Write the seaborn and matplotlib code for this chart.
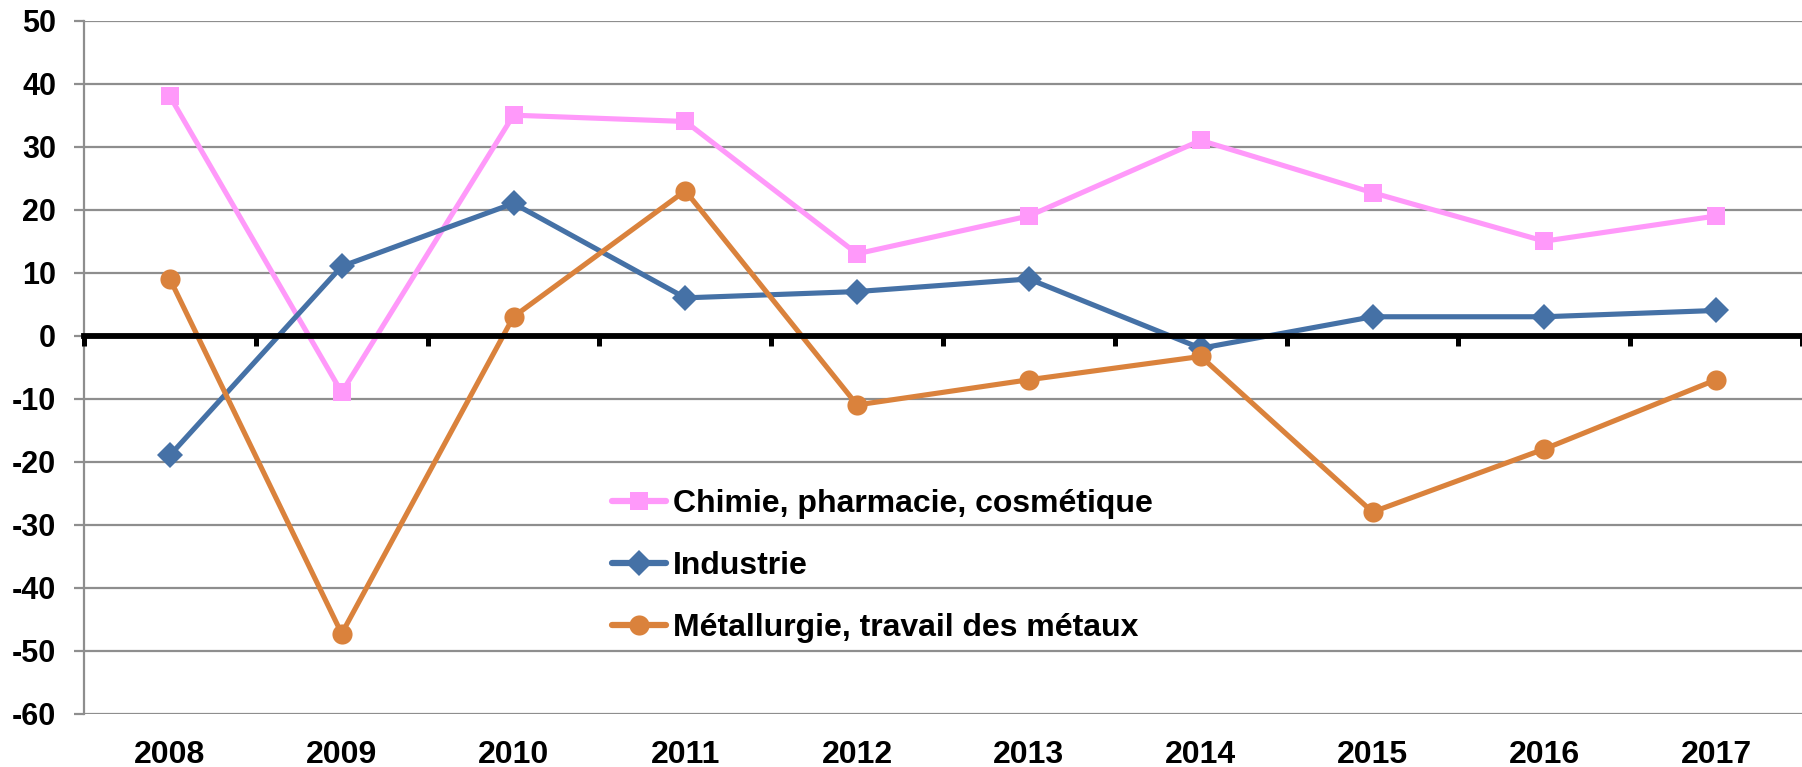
import matplotlib
matplotlib.use("Agg")
import matplotlib.pyplot as plt
import seaborn as sns
import pandas as pd
import numpy as np

years = ["2008", "2009", "2010", "2011", "2012", "2013", "2014", "2015", "2016", "2017"]
chimie = [38, -9, 35, 34, 13, 19, 31, 22.7, 15, 19]
industrie = [-19, 11, 21, 6, 7, 9, -2, 3, 3, 4]
metallurgie = [9, -47.3, 3, 23, -11, -7, -3.3, -28, -18, -7]
series_names = ["Chimie, pharmacie, cosmétique", "Industrie", "Métallurgie, travail des métaux"]
y_ticks = list(range(-60, 51, 10))

sns.set_theme(style="white")
plt.rcParams["font.family"] = ["Liberation Sans", "DejaVu Sans"]
plt.rcParams["font.weight"] = "bold"

df = pd.DataFrame({
    "year": years * 3,
    "value": chimie + industrie + metallurgie,
    "serie": [series_names[0]] * len(years) + [series_names[1]] * len(years) + [series_names[2]] * len(years),
})

colors = {series_names[0]: "#FF99FA", series_names[1]: "#4571A6", series_names[2]: "#DA823C"}
markers = {series_names[0]: "s", series_names[1]: "D", series_names[2]: "o"}

fig = plt.figure(figsize=(18.02, 7.67), dpi=100)
ax = fig.add_axes([84 / 1802, 1 - 713.6 / 767, 1 - 84 / 1802, (713.6 - 20.7) / 767])

sns.lineplot(data=df, x="year", y="value", hue="serie", style="serie",
             palette=colors, markers=markers, dashes=False, sort=False,
             linewidth=3.7, markersize=14, markeredgewidth=0, ax=ax, legend=True)
for line in ax.get_lines():
    if line.get_marker() == "D":
        line.set_markersize(13)
    elif line.get_marker() == "o":
        line.set_markersize(14.5)
    elif line.get_marker() == "s":
        line.set_markersize(13.5)

ax.set_xlim(-0.5, len(years) - 0.5)
ax.set_ylim(-60, 50)
ax.set_yticks(y_ticks)
ax.set_yticklabels([str(t) for t in y_ticks], fontsize=22, fontweight="bold")
ax.grid(axis="y", color="#8E8E8E", linewidth=1.6)
ax.grid(axis="x", visible=False)
ax.set_axisbelow(True)
ax.set_xlabel("")
ax.set_ylabel("")

for s in ["top", "right", "bottom"]:
    ax.spines[s].set_visible(False)
ax.spines["left"].set_color("#8E8E8E")
ax.spines["left"].set_linewidth(1.6)
ax.tick_params(axis="y", which="major", left=True, length=7, width=1.6, color="#8E8E8E", pad=13, labelcolor="black")
ax.tick_params(axis="x", which="major", bottom=False, length=0, pad=19, labelsize=23, labelcolor="black")
for lab in ax.get_xticklabels():
    lab.set_fontweight("bold")

# zero axis with category boundary ticks
sec = ax.secondary_xaxis(60 / 110)
sec.set_xticks(np.arange(-0.5, len(years), 1.0))
sec.set_xticklabels([])
for s in ["top", "bottom"]:
    sec.spines[s].set_linewidth(4.2)
    sec.spines[s].set_color("black")
sec.tick_params(axis="x", direction="in", length=7, width=3.6, color="black")
sec.set_zorder(5)

leg = ax.legend(loc="center left", bbox_to_anchor=(612 / 1802, 1 - 566 / 767),
                bbox_transform=fig.transFigure, frameon=False,
                fontsize=23, handlelength=1.7, handletextpad=0.2, labelspacing=1.0,
                borderpad=0, borderaxespad=0)
for t in leg.get_texts():
    t.set_fontweight("bold")
    t.set_color("black")
for h in leg.legend_handles:
    h.set_linewidth(4.5)

fig.savefig("out.png", dpi=100)
